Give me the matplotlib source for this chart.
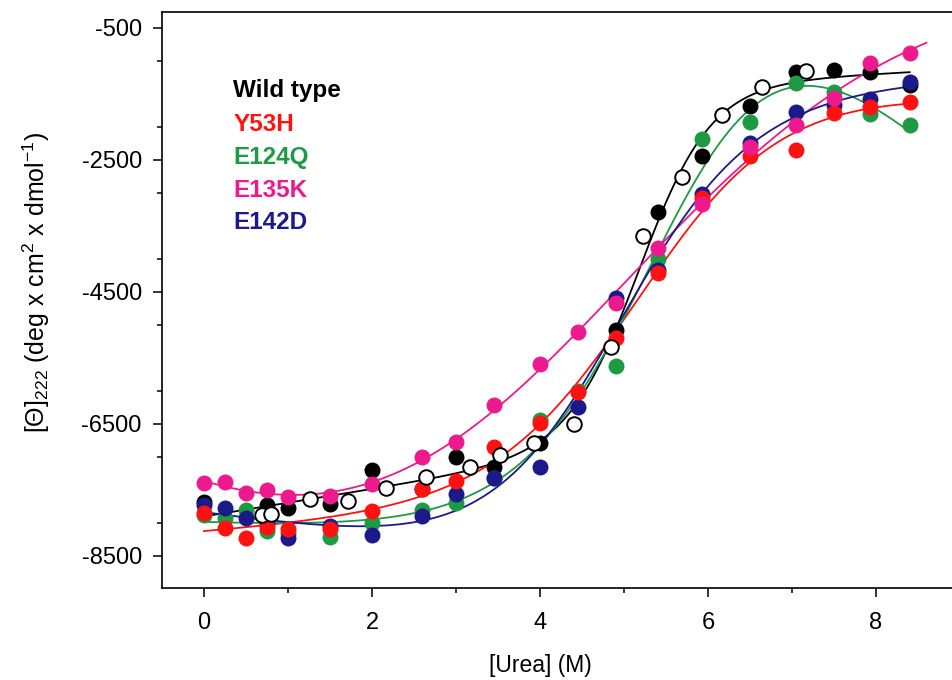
import numpy as np
import matplotlib
matplotlib.use("Agg")
import matplotlib.pyplot as plt
from matplotlib.ticker import MultipleLocator

plt.rcParams["font.family"] = ["Liberation Sans", "DejaVu Sans"]
plt.rcParams["mathtext.fontset"] = "custom"
plt.rcParams["mathtext.rm"] = "Liberation Sans"
plt.rcParams["mathtext.it"] = "Liberation Sans:italic"
plt.rcParams["axes.unicode_minus"] = False

# Urea concentrations (M) for the mutant series
urea = [0, 0.25, 0.5, 0.75, 1.0, 1.5, 2.0, 2.6, 3.0, 3.45, 4.0, 4.45,
        4.9, 5.4, 5.93, 6.5, 7.05, 7.5, 7.93, 8.4]

y53h = [-7848, -8076, -8227, -8060, -8091, -8091, -7818, -7485, -7364, -6848,
        -6485, -6015, -5197, -4212, -3076, -2439, -2348, -1788, -1697, -1621]
e124q = [-7880, -7924, -7803, -8120, -8150, -8212, -8000, -7803, -7697, -7320,
         -6439, -6000, -5621, -4000, -2182, -1924, -1333, -1470, -1800, -1970]
e135k = [-7394, -7379, -7545, -7500, -7606, -7591, -7409, -7000, -6773, -6212,
         -5591, -5106, -4667, -3833, -3167, -2303, -1970, -1561, -1030, -879]
e142d = [-7727, -7773, -7924, -8000, -8227, -8045, -8182, -7894, -7561, -7318,
         -7152, -6242, -4591, -4167, -3015, -2250, -1773, -1667, -1576, -1318]

# Wild type, two independent titrations (filled and open symbols)
wt_urea = [0, 0.75, 1.0, 1.5, 2.0, 2.6, 3.0, 3.45, 4.0, 4.9, 5.4, 5.93,
           6.5, 7.05, 7.5, 7.93, 8.4]
wt = [-7682, -7727, -7773, -7712, -7197, -7485, -7000, -7152, -6788, -5076,
      -3288, -2439, -1682, -1167, -1136, -1167, -1364]
wt2_urea = [0.69, 0.80, 1.26, 1.71, 2.17, 2.64, 3.17, 3.52, 3.93, 4.40, 4.85,
            5.23, 5.69, 6.17, 6.64, 7.17]
wt2 = [-7879, -7864, -7636, -7667, -7470, -7303, -7152, -6970, -6788, -6500,
       -5333, -3652, -2758, -1818, -1394, -1152]

labels = ["Wild type", "Y53H", "E124Q", "E135K", "E142D"]
colors = ["#000000", "#ff1111", "#1e9a44", "#ec1a8c", "#1c1a8a"]
label_y = [-1440, -1955, -2455, -2970, -3440]
# Urea range covered by each fitted curve
fit_end = [8.4, 8.35, 8.35, 8.6, 8.4]


def two_state_fit(x, y):
    """Two-state unfolding fit with linear native/unfolded baselines."""
    x = np.asarray(x, float)
    y = np.asarray(y, float)
    best = (np.inf, None)
    for cm in np.linspace(3.0, 7.0, 161):
        for m in np.linspace(0.5, 5.0, 91):
            k = np.exp(m * (x - cm))
            fn, fu = 1 / (1 + k), k / (1 + k)
            a = np.column_stack([fn, x * fn, fu, x * fu])
            coef = np.linalg.lstsq(a, y, rcond=None)[0]
            r = np.sum((a @ coef - y) ** 2)
            if r < best[0]:
                best = (r, (cm, m, coef))
    cm, m, coef = best[1]

    def f(xx):
        k = np.exp(m * (xx - cm))
        fn, fu = 1 / (1 + k), k / (1 + k)
        return coef[0] * fn + coef[1] * xx * fn + coef[2] * fu + coef[3] * xx * fu
    return f


fig = plt.figure(figsize=(9.52, 6.8), dpi=100)
ax = fig.add_axes([162 / 952, 92 / 680, 1 - 162 / 952, 576 / 680])

wt_all_x = wt_urea + wt2_urea
wt_all_y = wt + wt2
series = [(wt_all_x, wt_all_y), (urea, y53h), (urea, e124q), (urea, e135k), (urea, e142d)]
for (sx, sy), c, xe in zip(series, colors, fit_end):
    f = two_state_fit(sx, sy)
    xs = np.linspace(0, xe, 300)
    ax.plot(xs, f(xs), color=c, lw=1.3, zorder=2)

ms = 11.5
ax.plot(wt_urea, wt, "o", ms=ms, color=colors[0], mec="none", zorder=3)
ax.plot(urea, e124q, "o", ms=ms, color=colors[2], mec="none", zorder=4)
ax.plot(urea, e142d, "o", ms=ms, color=colors[4], mec="none", zorder=5)
ax.plot(urea, y53h, "o", ms=ms, color=colors[1], mec="none", zorder=6)
ax.plot(urea, e135k, "o", ms=ms, color=colors[3], mec="none", zorder=7)
ax.plot(wt2_urea, wt2, "o", ms=ms - 1, mfc="white", mec="black", mew=1.4, zorder=8)

# Series names written inside the plot
for lab, c, ly in zip(labels, colors, label_y):
    ax.text(0.35, ly, lab, color=c, fontsize=17.5, fontweight="bold",
            va="center", ha="left")

ax.set_xlim(-0.5, (952 - 204) / 84)
ax.set_ylim(-8985, -258)
ax.xaxis.set_major_locator(MultipleLocator(2))
ax.xaxis.set_minor_locator(MultipleLocator(1))
ax.set_yticks([-500, -2500, -4500, -6500, -8500])
ax.yaxis.set_minor_locator(MultipleLocator(1000))
ax.tick_params(which="major", direction="out", length=6.5, width=1.1,
               labelsize=17, pad=8)
ax.tick_params(axis="x", which="major", pad=11)
ax.tick_params(which="minor", direction="out", length=3.6, width=1.1)
ax.tick_params(top=False, right=False)
for s in ax.spines.values():
    s.set_linewidth(1.2)
ax.spines["right"].set_visible(False)

ax.set_xlabel("[Urea] (M)", fontsize=16.5)
ax.xaxis.set_label_coords((540 - 162) / 790, -0.114)
ax.set_ylabel(r"[$\mathregular{\Theta}$]$_{\mathregular{222}}$ (deg x cm$^{\mathregular{2}}$ x dmol$^{\mathregular{-1}}$)",
              fontsize=18)
ax.yaxis.set_label_coords(-0.139, 0.53)

fig.savefig("out.png", dpi=100)
